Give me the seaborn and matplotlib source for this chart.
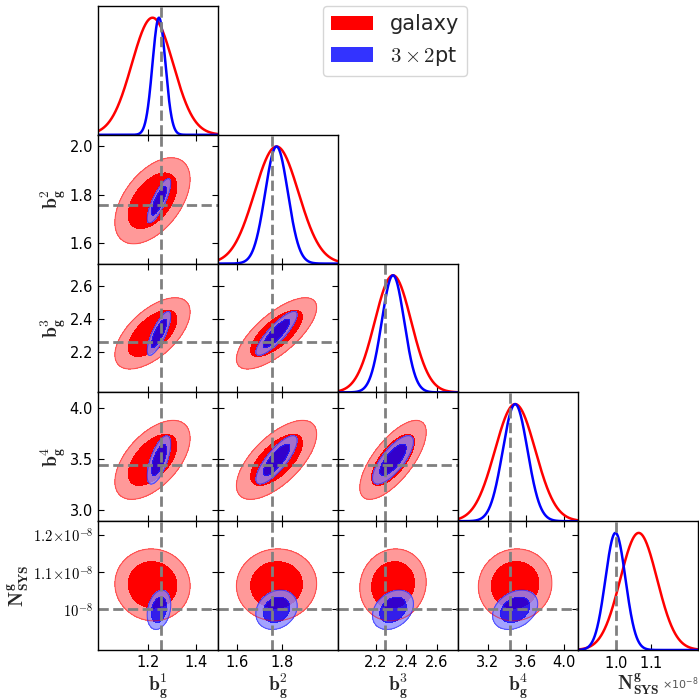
import numpy as np
import matplotlib
matplotlib.use("Agg")
import matplotlib.pyplot as plt
import seaborn as sns
from matplotlib.patches import Patch
from matplotlib.ticker import FixedLocator, FixedFormatter, ScalarFormatter, NullLocator

# ---------------- data ----------------
PARAMS = ["b1", "b2", "b3", "b4", "NSYS"]
AXIS_LABELS = [r"$\mathbf{b}_{\mathbf{g}}^{\mathbf{1}}$",
               r"$\mathbf{b}_{\mathbf{g}}^{\mathbf{2}}$",
               r"$\mathbf{b}_{\mathbf{g}}^{\mathbf{3}}$",
               r"$\mathbf{b}_{\mathbf{g}}^{\mathbf{4}}$",
               r"$\mathbf{N}_{\mathbf{SYS}}^{\mathbf{g}}$"]
FIDUCIAL = [1.254, 1.756, 2.26, 3.437, 1.0e-8]

SERIES = ["galaxy", r"$3\times2$pt"]
GAL_MEAN = [1.217, 1.775, 2.312, 3.49, 1.065e-8]
GAL_SIGMA = [0.086, 0.097, 0.120, 0.212, 0.053e-8]
GAL_CORR = [[1.00, 0.50, 0.60, 0.55, -0.03],
            [0.50, 1.00, 0.72, 0.65, 0.03],
            [0.60, 0.72, 1.00, 0.70, 0.08],
            [0.55, 0.65, 0.70, 1.00, 0.05],
            [-0.03, 0.03, 0.08, 0.05, 1.00]]
X2_MEAN = [1.244, 1.775, 2.312, 3.49, 0.998e-8]
X2_SIGMA = [0.027, 0.050, 0.074, 0.130, 0.029e-8]
X2_CORR = [[1.00, 0.80, 0.78, 0.65, 0.25],
           [0.80, 1.00, 0.85, 0.80, 0.20],
           [0.78, 0.85, 1.00, 0.75, 0.30],
           [0.65, 0.80, 0.75, 1.00, 0.30],
           [0.25, 0.20, 0.30, 0.30, 1.00]]

RANGES = [(0.99, 1.49), (1.517, 2.046), (1.95, 2.74), (2.89, 4.15), (0.89e-8, 1.236e-8)]
X_TICKS = [[1.2, 1.4], [1.6, 1.8], [2.2, 2.4, 2.6], [3.2, 3.6, 4.0], [1.0e-8, 1.1e-8]]
Y_TICKS = [[], [1.6, 1.8, 2.0], [2.2, 2.4, 2.6], [3.0, 3.5, 4.0], [1.0e-8, 1.1e-8, 1.2e-8]]
N_YTICKLABELS = [r"$10^{-8}$", r"$1.1\!\times\!10^{-8}$", r"$1.2\!\times\!10^{-8}$"]
CONTOUR_MASS = [0.50, 0.81]   # enclosed 2D probability of inner / outer region

# ---------------- style ----------------
sns.set_style("ticks")
plt.rcParams["font.family"] = ["DejaVu Sans"]
plt.rcParams["mathtext.fontset"] = "cm"
plt.rcParams["axes.edgecolor"] = "black"
plt.rcParams["axes.linewidth"] = 1.0
plt.rcParams["xtick.color"] = "black"
plt.rcParams["ytick.color"] = "black"

STYLE = {
    "galaxy": dict(line="#ff0000", inner=(1.0, 0.0, 0.0, 1.0), outer=(1.0, 0.6, 0.6, 1.0), edge="#ff0000"),
    "x2": dict(line="#0000ff", inner=(0.0, 0.0, 1.0, 0.8), outer=(0.55, 0.55, 1.0, 0.8), edge="#0000ff"),
}
MODELS = [("galaxy", GAL_MEAN, GAL_SIGMA, GAL_CORR), ("x2", X2_MEAN, X2_SIGMA, X2_CORR)]

n = len(PARAMS)
fig = plt.figure(figsize=(6.99, 7.0), dpi=100)
gs = fig.add_gridspec(n, n, left=98 / 699, right=698 / 699, top=1 - 6 / 700, bottom=1 - 650 / 700,
                      wspace=0, hspace=0)

levels_r2 = [-2 * np.log(1 - m) for m in CONTOUR_MASS]

for row in range(n):
    for col in range(n):
        if col > row:
            continue
        ax = fig.add_subplot(gs[row, col])
        xlo, xhi = RANGES[col]
        if row == col:
            xs = np.linspace(xlo, xhi, 500)
            for key, mean, sig, corr in MODELS:
                ys = np.exp(-0.5 * ((xs - mean[col]) / sig[col]) ** 2)
                sns.lineplot(x=xs, y=ys, ax=ax, color=STYLE[key]["line"], lw=1.8, legend=False)
            ax.axvline(FIDUCIAL[col], color="gray", ls="--", lw=2)
            ax.set_ylim(0, 1.1)
            ax.yaxis.set_major_locator(NullLocator())
            ax.tick_params(axis="x", direction="in", top=False, bottom=True, length=4)
        else:
            ylo, yhi = RANGES[row]
            gx = np.linspace(xlo, xhi, 300)
            gy = np.linspace(ylo, yhi, 300)
            X, Y = np.meshgrid(gx, gy)
            for key, mean, sig, corr in MODELS:
                rho = corr[row][col]
                u = (X - mean[col]) / sig[col]
                v = (Y - mean[row]) / sig[row]
                d2 = (u * u - 2 * rho * u * v + v * v) / (1 - rho * rho)
                st = STYLE[key]
                ax.contourf(X, Y, d2, levels=[levels_r2[0], levels_r2[1]], colors=[st["outer"]])
                ax.contourf(X, Y, d2, levels=[0, levels_r2[0]], colors=[st["inner"]])
                ax.contour(X, Y, d2, levels=[levels_r2[1]], colors=[st["edge"]], linewidths=0.8, alpha=0.5)
            ax.axvline(FIDUCIAL[col], color="gray", ls="--", lw=2)
            ax.axhline(FIDUCIAL[row], color="gray", ls="--", lw=2)
            ax.set_ylim(ylo, yhi)
            ax.yaxis.set_major_locator(FixedLocator(Y_TICKS[row]))
            ax.tick_params(direction="in", top=True, right=True, bottom=True, left=True, length=4)
        ax.set_xlim(xlo, xhi)
        ax.xaxis.set_major_locator(FixedLocator(X_TICKS[col]))
        ax.tick_params(labelsize=10.5)

        # tick labels / axis labels
        if row == n - 1:
            ax.set_xlabel(AXIS_LABELS[col], fontsize=14, va="top")
            ax.xaxis.set_label_coords(0.5, -0.165)
            if col == n - 1:
                fmt = ScalarFormatter(useMathText=True)
                ax.xaxis.set_major_formatter(fmt)
                ax.xaxis.offsetText.set_math_fontfamily("dejavusans")
                ax.xaxis.offsetText.set_fontsize(8)
                ax.xaxis.offsetText.set_color("#555555")
        else:
            ax.tick_params(labelbottom=False)
        if col == 0 and row > 0:
            ax.set_ylabel(AXIS_LABELS[row], fontsize=14)
            if row == n - 1:
                ax.yaxis.set_major_formatter(FixedFormatter(N_YTICKLABELS))
                ax.tick_params(axis="y", labelsize=10.5)
                ax.yaxis.set_label_coords(-0.56, 0.5)
            else:
                ax.yaxis.set_label_coords(-0.25, 0.5)
        else:
            ax.tick_params(labelleft=False)

handles = [Patch(facecolor="#ff0000", edgecolor="none"), Patch(facecolor=(0.2, 0.2, 1.0), edgecolor="none")]
fig.legend(handles, SERIES, loc="upper left", bbox_to_anchor=(323 / 699, 1 - 6 / 700), borderaxespad=0,
           fontsize=15, frameon=True)

fig.savefig("out.png", dpi=100)
